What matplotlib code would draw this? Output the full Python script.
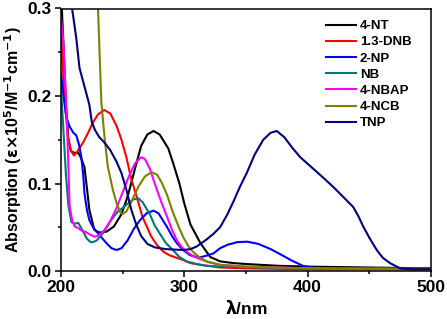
import numpy as np
import matplotlib
matplotlib.use("Agg")
import matplotlib.pyplot as plt
from matplotlib.ticker import MultipleLocator, FormatStrFormatter

plt.rcParams['font.family'] = ['Liberation Sans', 'DejaVu Sans']
plt.rcParams['font.weight'] = 'bold'
plt.rcParams['mathtext.default'] = 'bf'

# spectra (wavelength nm, absorption)
nt_x = [200, 202, 204, 206, 208, 211, 214, 216, 219, 221, 223, 227, 231, 237, 243, 249, 254,
        260, 265, 270, 275, 280, 287, 291, 296, 300, 305, 313, 321, 329, 340, 350, 375, 400, 450, 500]
nt_y = [0.32, 0.26, 0.19, 0.15, 0.137, 0.135, 0.135, 0.13, 0.119, 0.095, 0.07, 0.047, 0.044, 0.045,
        0.051, 0.065, 0.085, 0.117, 0.143, 0.156, 0.16, 0.156, 0.14, 0.123, 0.1, 0.077, 0.053, 0.032,
        0.016, 0.011, 0.009, 0.008, 0.006, 0.005, 0.004, 0.003]

dnb_x = [200, 202, 203, 205.7, 208, 210.5, 213.5, 218, 222, 226, 230, 235, 240, 245, 249, 253, 257,
         262, 266, 269.5, 273, 277.6, 283, 288, 294, 299, 305, 313, 329, 350, 400, 500]
dnb_y = [0.27, 0.22, 0.195, 0.153, 0.138, 0.132, 0.137, 0.147, 0.158, 0.17, 0.179, 0.184, 0.18,
         0.166, 0.15, 0.13, 0.105, 0.082, 0.062, 0.051, 0.04, 0.03, 0.022, 0.018, 0.015, 0.0126,
         0.009, 0.007, 0.004, 0.003, 0.002, 0.002]

np_x = [200, 202, 204.3, 207, 210, 212.4, 214.5, 216.5, 218, 219, 221, 223, 226, 230, 236.7, 241, 245,
        249, 254, 259, 264, 269.5, 275, 279, 285.7, 290, 293.8, 299, 304.6, 310, 314, 319, 323.5, 329,
        335, 343, 351, 360, 370, 378, 387, 396, 407, 450, 500]
np_y = [0.225, 0.2, 0.176, 0.165, 0.158, 0.155, 0.145, 0.13, 0.11, 0.089, 0.07, 0.058, 0.05, 0.043,
        0.032, 0.026, 0.024, 0.026, 0.035, 0.048, 0.058, 0.066, 0.069, 0.066, 0.051, 0.04, 0.032,
        0.024, 0.018, 0.016, 0.016, 0.018, 0.02, 0.026, 0.03, 0.033, 0.0335, 0.031, 0.025, 0.019,
        0.012, 0.006, 0.003, 0.003, 0.003]

nb_x = [200, 202, 204, 206, 208.4, 211, 214, 216, 218, 221, 224, 226, 229, 235, 240, 246, 250, 255,
        259, 262.7, 266, 269, 272, 276, 280, 285, 290, 296, 302, 310, 318, 330, 400, 500]
nb_y = [0.21, 0.16, 0.11, 0.075, 0.056, 0.054, 0.055, 0.05, 0.045, 0.037, 0.033, 0.033, 0.035, 0.045,
        0.057, 0.068, 0.072, 0.078, 0.082, 0.083, 0.079, 0.072, 0.065, 0.052, 0.043, 0.032, 0.025,
        0.016, 0.011, 0.008, 0.006, 0.005, 0.003, 0.003]

nbap_x = [200, 202, 204, 205.5, 207, 209, 211, 214, 217, 219.5, 223, 227.5, 231, 235.4, 240, 245, 250,
          255, 260, 265, 268, 272, 276, 281, 286, 290, 294, 298, 302, 307, 313, 320, 329, 350, 400, 500]
nbap_y = [0.29, 0.26, 0.2, 0.14, 0.075, 0.058, 0.051, 0.049, 0.046, 0.045, 0.042, 0.039, 0.041, 0.047,
          0.057, 0.072, 0.09, 0.108, 0.123, 0.13, 0.128, 0.117, 0.1, 0.08, 0.062, 0.047, 0.035,
          0.027, 0.022, 0.017, 0.0135, 0.01, 0.007, 0.005, 0.003, 0.002]

ncb_x = [200, 226, 230, 232.7, 235.5, 238, 242, 245, 248, 250, 253, 258, 263, 268, 273.5, 278, 282,
         286, 291, 295, 299, 303, 307, 312, 318, 329, 350, 400, 500]
ncb_y = [0.7, 0.46, 0.3, 0.193, 0.15, 0.119, 0.093, 0.078, 0.067, 0.065, 0.068, 0.082, 0.097, 0.108,
         0.113, 0.11, 0.1, 0.087, 0.066, 0.052, 0.039, 0.029, 0.022, 0.016, 0.011, 0.007, 0.005,
         0.003, 0.002]

tnp_x = [200, 205, 209, 212.4, 215, 219, 223, 225, 227.6, 231, 235.7, 240, 245, 249, 253, 257, 261,
         265, 270, 276, 285, 299, 305, 310, 318, 324, 329, 335, 340, 345, 350.6, 357, 364, 370, 375,
         381, 388, 394, 402, 410, 420.8, 430, 437, 441, 445, 450, 456, 461, 466.8, 475, 485, 500]
tnp_y = [0.5, 0.4, 0.3, 0.266, 0.232, 0.211, 0.19, 0.17, 0.161, 0.153, 0.146, 0.138, 0.125, 0.112,
         0.093, 0.07, 0.053, 0.04, 0.031, 0.027, 0.025, 0.024, 0.025, 0.028, 0.036, 0.043, 0.05,
         0.065, 0.08, 0.096, 0.112, 0.133, 0.15, 0.158, 0.16, 0.153, 0.14, 0.13, 0.12, 0.11, 0.096,
         0.083, 0.073, 0.063, 0.051, 0.038, 0.024, 0.015, 0.009, 0.003, 0.002, 0.002]

labels = ['4-NT', '1.3-DNB', '2-NP', 'NB', '4-NBAP', '4-NCB', 'TNP']
colors = ['#000000', '#ff0000', '#0000ff', '#007878', '#ff00ff', '#808000', '#000080']
series = [(nt_x, nt_y), (dnb_x, dnb_y), (np_x, np_y), (nb_x, nb_y),
          (nbap_x, nbap_y), (ncb_x, ncb_y), (tnp_x, tnp_y)]

fig = plt.figure(figsize=(4.47, 3.19), dpi=100)
ax = fig.add_axes([61 / 447, 1 - 271 / 319, 370 / 447, 262.5 / 319])

for (x, y), lab, c in zip(series, labels, colors):
    ax.plot(x, y, color=c, lw=1.5, label=lab)

ax.set_xlim(200, 500)
ax.set_ylim(0, 0.3)
ax.xaxis.set_major_locator(MultipleLocator(100))
ax.xaxis.set_minor_locator(MultipleLocator(50))
ax.yaxis.set_major_locator(MultipleLocator(0.1))
ax.yaxis.set_minor_locator(MultipleLocator(0.05))
ax.yaxis.set_major_formatter(FormatStrFormatter('%.1f'))
ax.tick_params(which='major', direction='out', length=4, width=1.1, labelsize=12.5, pad=2.5)
ax.tick_params(which='minor', direction='out', length=2.5, width=1.1)
for s in ax.spines.values():
    s.set_linewidth(1.1)

ax.set_xlabel(r'$\lambda$/nm', fontsize=12.5, fontweight='bold', labelpad=3)
ax.set_ylabel(r'Absorption ($\varepsilon$$\times$10$^{5}$/M$^{-1}$cm$^{-1}$)',
              fontsize=11.5, fontweight='bold', labelpad=3)

leg = ax.legend(loc='upper left', bbox_to_anchor=(326 / 447, 1 - 20 / 319),
                bbox_transform=fig.transFigure, frameon=False, fontsize=9.5,
                handlelength=2.25, handletextpad=0.3, labelspacing=0.3,
                borderpad=0, borderaxespad=0)
for t in leg.get_texts():
    t.set_fontweight('bold')

fig.savefig('out.png', dpi=100)
